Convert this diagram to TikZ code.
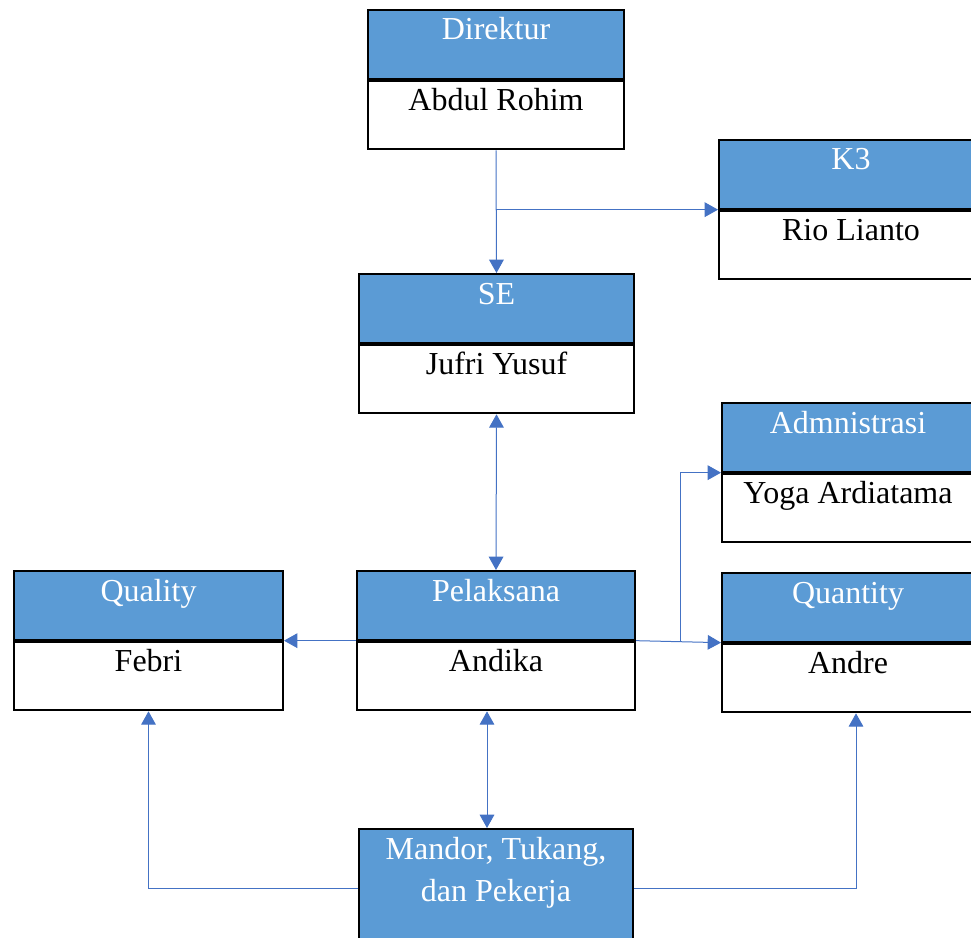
\documentclass[tikz,border=0pt]{standalone}
\usepackage{fontspec}
\setmainfont{Liberation Serif}
\usetikzlibrary{arrows.meta, positioning, calc}
\definecolor{headblue}{HTML}{5B9BD5}
\definecolor{linkblue}{HTML}{4472C4}

\begin{document}
\begin{tikzpicture}[x=0.75pt, y=-0.75pt, >={Triangle[length=10pt,width=11pt]}, font=\fontsize{24}{31.5}\selectfont]
		\tikzset{
			head/.style={draw=black, line width=1.5pt, fill=headblue, text=white, inner sep=0pt,
				minimum width=#1*0.75pt, text height=22.5pt, text depth=29pt, anchor=north west},
			body/.style={head=#1, fill=white, text=black, anchor=north},
			link/.style={draw=linkblue, line width=0.75pt}
		}
		\useasboundingbox (0,0) rectangle (971,938);
		
		\node[head=256] (dir) at (367,9) {Direktur};
		\node[body=256, below=0pt of dir] (dirb) {Abdul Rohim};
		\node[head=264] (k3) at (718,139) {K3};
		\node[body=264, below=0pt of k3] (k3b) {Rio Lianto};
		\node[head=275] (se) at (358,273) {SE};
		\node[body=275, below=0pt of se] (seb) {Jufri Yusuf};
		\node[head=252] (adm) at (721,402) {Admnistrasi};
		\node[body=252, below=0pt of adm] (admb) {Yoga Ardiatama};
		\node[head=269] (qual) at (13,570) {Quality};
		\node[body=269, below=0pt of qual] (qualb) {Febri};
		\node[head=278] (pel) at (356,570) {Pelaksana};
		\node[body=278, below=0pt of pel] (pelb) {Andika};
		\node[head=252] (quan) at (721,572) {Quantity};
		\node[body=252, below=0pt of quan] (quanb) {Andre};
		\node[head=274, text depth=66pt] (man) at (358,828)
			{\parbox[t]{190pt}{\centering Mandor, Tukang,\\ dan Pekerja}};
		
		\coordinate (split) at (dirb.south |- k3.south west);
		\draw[link,->] (dirb.south) -- (se.north);
		\draw[link,->] (split) -- (k3.south west);
		\draw[link,<->] (seb.south) -- (pel.north);
		\draw[link,->] (pel.south west) -- (qual.south east);
		\draw[link,->] (pel.south east) -- (quan.south west);
		\draw[link,->] ($(pel.south east)+(44,0)$) |- (adm.south west);
		\draw[link,<->] ($(pelb.south)+(-9,0)$) -- ($(man.north)+(-9,0)$);
		\draw[link,->] (man.west) -| (qualb.south);
		\draw[link,->] (man.east) -| ($(quanb.south)+(8,0)$);
	\end{tikzpicture}
\end{document}
